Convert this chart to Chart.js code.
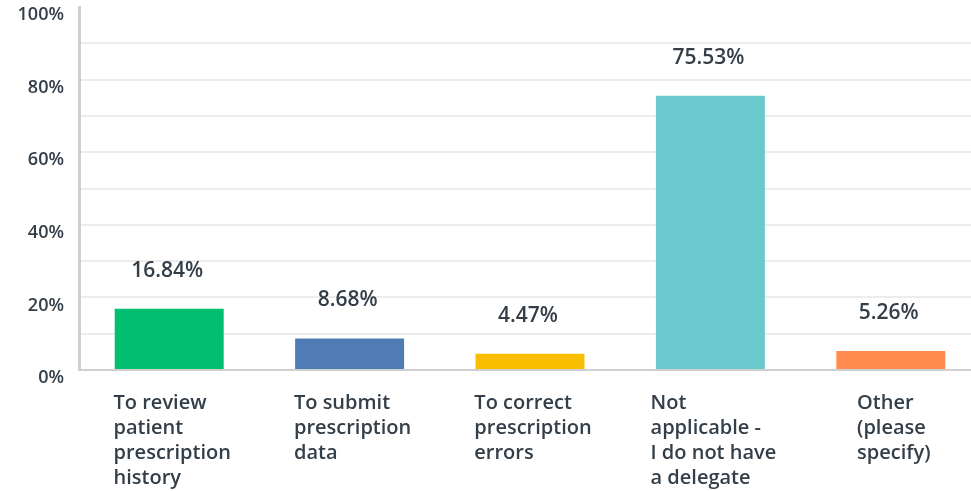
<!DOCTYPE html>
<html>
<head>
<meta charset="utf-8">
<script src="https://cdn.jsdelivr.net/npm/chart.js@4/dist/chart.umd.min.js"></script>
<style>
  html, body { margin: 0; padding: 0; background: #fff; overflow: hidden; }
  #wrap { width: 981px; height: 491px; }
</style>
</head>
<body>
<div id="wrap"><canvas id="myChart"></canvas></div>
<script>
const categories = [
    ['To review', 'patient', 'prescription', 'history'],
    ['To submit', 'prescription', 'data'],
    ['To correct', 'prescription', 'errors'],
    ['Not', 'applicable -', 'I do not have', 'a delegate'],
    ['Other', '(please', 'specify)']
];
const values = [16.84, 8.68, 4.47, 75.53, 5.26];
const barColors = ['#00bf6f', '#507cb6', '#f9be00', '#6bc8cd', '#ff8b4f'];
const yTicks = [0, 20, 40, 60, 80, 100];

const textColor = '#333e48';
const fontFamily = '"Open Sans", sans-serif';

// value labels above the bars
const valueLabels = {
    id: 'valueLabels',
    afterDatasetsDraw(chart) {
        const ctx = chart.ctx;
        const meta = chart.getDatasetMeta(0);
        ctx.save();
        ctx.font = `600 21px ${fontFamily}`;
        ctx.fillStyle = textColor;
        ctx.textAlign = 'center';
        ctx.textBaseline = 'middle';
        meta.data.forEach((bar, i) => {
            ctx.fillText(values[i].toFixed(2) + '%', bar.x - 2, bar.y - 38);
        });
        ctx.restore();
    }
};

// category labels: block centred under the bar, lines left-aligned
const categoryLabels = {
    id: 'categoryLabels',
    afterDraw(chart) {
        const ctx = chart.ctx;
        const xScale = chart.scales.x;
        ctx.save();
        ctx.font = `600 20px ${fontFamily}`;
        ctx.fillStyle = textColor;
        ctx.textAlign = 'left';
        ctx.textBaseline = 'middle';
        categories.forEach((lines, i) => {
            const cx = xScale.getPixelForValue(i);
            const w = Math.max(...lines.map(l => ctx.measureText(l).width));
            const left = cx - w / 2 + 3;
            lines.forEach((l, j) => {
                ctx.fillText(l, left, xScale.top + 33 + j * 25);
            });
        });
        ctx.restore();
    }
};

function renderChart() {
    const ctx = document.getElementById('myChart');
    return new Chart(ctx, {
        type: 'bar',
        data: {
            labels: categories,
            datasets: [{
                data: values,
                backgroundColor: barColors,
                borderWidth: 0,
                barPercentage: 0.604,
                categoryPercentage: 1
            }]
        },
        options: {
            responsive: true,
            maintainAspectRatio: false,
            animation: false,
            layout: { padding: { top: 7, left: 0, right: 0, bottom: 0 } },
            plugins: {
                legend: { display: false },
                tooltip: { enabled: false }
            },
            scales: {
                x: {
                    grid: { display: false, drawTicks: false },
                    border: { color: '#cfcfcf', width: 2 },
                    afterFit: s => { s.height = 121; s.paddingLeft = 0; s.paddingRight = 0; },
                    ticks: { display: false }
                },
                y: {
                    min: 0,
                    max: 100,
                    afterFit: s => { s.width = 79; s.paddingTop = 0; s.paddingBottom = 0; },
                    grid: {
                        drawTicks: false,
                        lineWidth: 2,
                        color: c => (c.tick && c.tick.value === 100) ? 'rgba(0,0,0,0)' : '#ececec'
                    },
                    border: { color: '#cfcfcf', width: 3 },
                    ticks: {
                        stepSize: 10,
                        padding: 15,
                        labelOffset: 8,
                        color: textColor,
                        font: { family: fontFamily, size: 18, weight: '600' },
                        callback: v => yTicks.includes(v) ? v + '%' : ''
                    }
                }
            }
        },
        plugins: [valueLabels, categoryLabels]
    });
}
renderChart();
</script>
</body>
</html>
